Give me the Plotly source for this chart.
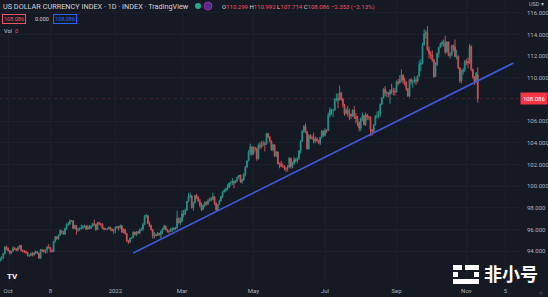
import pandas as pd
import plotly.graph_objects as go

# ---------------- data (DXY daily, 2021-09-24 .. 2022-11-10, business days) ----------------
opens = [
    93.08,
    93.33, 93.36, 93.77, 94.36, 94.23,
    94.04, 93.82, 94.00, 94.26, 94.20,
    94.07, 94.31, 94.52, 94.08, 93.96,
    93.96, 93.88, 93.58, 93.59, 93.78,
    93.64, 93.82, 93.94, 93.79, 93.34,
    94.12, 94.08, 93.94, 94.14, 94.38,
    94.32, 94.06, 93.96, 94.88, 95.33,
    95.13, 95.46, 95.89, 95.82, 95.57,
    96.06, 96.48, 96.52, 96.80, 96.81,
    96.09, 96.36, 95.98, 96.05, 96.10,
    96.13, 96.29, 96.33, 96.02, 96.24,
    96.08, 96.30, 96.54, 96.48, 95.99,
    96.61, 96.51, 96.50, 96.11, 96.01,
    96.00, 96.06, 96.18, 96.00, 95.90,
    95.97, 96.21, 96.26, 96.16, 96.34,
    95.73, 95.99, 95.62, 94.93, 94.82,
    95.19, 95.24, 95.75, 95.53, 95.77,
    95.65, 95.92, 96.03, 96.45, 97.23,
    97.27, 96.54, 96.31, 95.96, 95.40,
    95.48, 95.44, 95.64, 95.52, 95.82,
    96.04, 96.30, 96.01, 95.82, 95.82,
    96.04, 96.06, 96.02, 96.17, 97.03,
    96.62, 96.71, 97.43, 97.39, 97.78,
    98.58, 99.03, 99.10, 97.99, 98.49,
    99.12, 98.99, 98.62, 98.24, 97.84,
    98.23, 98.50, 98.33, 98.62, 98.79,
    98.77, 99.04, 98.42, 97.82, 98.31,
    98.65, 99.05, 99.50, 99.62, 99.77,
    99.86, 100.28, 100.31, 100.46, 100.32,
    100.50, 100.84, 101.03, 100.40, 100.61,
    101.13, 101.77, 102.33, 103.12, 103.63,
    102.96, 103.55, 103.46, 102.54, 103.76,
    103.66, 103.90, 103.92, 103.87, 104.85,
    104.56, 104.19, 103.37, 103.82, 102.79,
    103.16, 102.07, 102.09, 101.85, 101.82,
    101.68, 101.64, 101.76, 102.57, 101.82,
    102.14, 102.45, 102.34, 102.59, 103.25,
    104.15, 105.07, 105.52, 105.06, 103.43,
    104.66, 104.45, 104.44, 104.15, 104.39,
    104.20, 103.99, 104.52, 105.10, 104.70,
    105.13, 105.12, 106.53, 107.05, 106.98,
    107.01, 108.06, 108.09, 107.97, 108.63,
    108.05, 107.50, 106.71, 107.02, 106.74,
    106.64, 106.47, 107.02, 106.44, 106.26,
    105.91, 105.35, 106.24, 106.51, 105.68,
    106.59, 106.37, 106.37, 105.18, 105.07,
    105.69, 106.49, 106.50, 106.68, 107.56,
    108.16, 108.97, 108.58, 108.62, 108.49,
    108.82, 108.79, 108.76, 108.70, 109.62,
    109.53, 109.84, 110.28, 109.79, 109.63,
    109.00, 108.33, 109.81, 109.67, 109.70,
    109.79, 109.71, 110.16, 111.24, 111.36,
    113.02, 114.07, 114.19, 112.59, 112.26,
    112.12, 111.69, 110.14, 111.22, 112.25,
    112.80, 113.15, 113.29, 113.28, 112.41,
    113.31, 112.08, 112.14, 112.98, 112.86,
    111.98, 112.00, 110.93, 109.73, 110.58,
    110.76, 111.53, 111.52, 111.38, 112.92,
    110.78, 110.10, 109.64, 110.30,
]
highs = [
    93.40,
    93.50, 93.81, 94.45, 94.50, 94.35,
    94.08, 94.03, 94.45, 94.38, 94.28,
    94.41, 94.56, 94.55, 94.15, 94.10,
    94.05, 93.92, 93.70, 93.86, 93.90,
    93.95, 94.06, 94.00, 93.85, 94.20,
    94.20, 94.13, 94.15, 94.48, 94.64,
    94.35, 94.13, 94.96, 95.40, 95.36,
    95.52, 96.01, 95.90, 95.85, 96.19,
    96.55, 96.70, 96.94, 96.87, 96.85,
    96.44, 96.39, 96.09, 96.20, 96.45,
    96.40, 96.44, 96.38, 96.38, 96.40,
    96.38, 96.59, 96.91, 96.50, 96.70,
    96.72, 96.60, 96.55, 96.20, 96.10,
    96.15, 96.28, 96.25, 96.10, 96.05,
    96.26, 96.31, 96.34, 96.46, 96.43,
    96.10, 96.06, 95.68, 95.03, 95.22,
    95.30, 95.82, 95.78, 95.85, 95.88,
    96.08, 96.17, 96.61, 97.33, 97.44,
    97.30, 96.74, 96.45, 96.05, 95.75,
    95.64, 95.78, 95.70, 95.92, 96.10,
    96.43, 96.35, 96.05, 95.95, 96.10,
    96.22, 96.20, 96.25, 97.74, 97.10,
    97.10, 97.75, 97.80, 97.91, 98.64,
    99.35, 99.42, 99.20, 98.55, 99.18,
    99.30, 99.05, 98.80, 98.45, 98.30,
    98.60, 98.60, 98.80, 98.95, 98.98,
    99.40, 99.10, 98.50, 98.35, 98.75,
    99.10, 99.55, 99.75, 99.85, 100.19,
    100.30, 100.50, 100.75, 100.50, 100.55,
    100.87, 101.04, 101.05, 100.70, 101.20,
    101.86, 102.40, 103.35, 103.93, 103.65,
    103.70, 103.65, 103.55, 103.94, 104.07,
    104.19, 104.20, 104.10, 104.93, 104.92,
    104.60, 104.25, 103.90, 103.85, 103.25,
    103.20, 102.20, 102.35, 102.10, 101.95,
    101.75, 101.95, 102.70, 102.60, 102.25,
    102.70, 102.60, 102.65, 103.35, 104.25,
    105.20, 105.65, 105.79, 105.10, 104.80,
    104.80, 104.70, 104.95, 104.60, 104.50,
    104.30, 104.55, 105.20, 105.15, 105.35,
    105.25, 106.80, 107.27, 107.15, 107.10,
    108.15, 108.55, 108.60, 109.29, 108.70,
    108.10, 107.60, 107.20, 107.40, 107.15,
    106.70, 107.10, 107.40, 106.75, 106.50,
    105.95, 106.35, 106.80, 106.55, 106.80,
    106.65, 106.50, 106.45, 105.30, 105.75,
    106.55, 106.90, 106.95, 107.65, 108.20,
    109.05, 109.25, 108.80, 108.70, 108.95,
    109.48, 109.10, 109.05, 109.75, 109.90,
    110.25, 110.79, 110.30, 110.05, 109.65,
    109.05, 109.90, 110.00, 109.85, 110.15,
    110.05, 110.25, 111.60, 111.75, 113.25,
    114.50, 114.40, 114.78, 112.90, 112.45,
    112.55, 111.75, 111.45, 112.35, 112.90,
    113.25, 113.45, 113.55, 113.90, 113.40,
    113.35, 112.40, 113.05, 113.10, 113.55,
    112.60, 112.10, 111.00, 110.75, 110.90,
    111.65, 111.75, 111.90, 113.15, 113.00,
    110.85, 110.15, 110.55, 110.99,
]
lows = [
    93.00,
    93.14, 93.26, 93.70, 94.12, 93.95,
    93.68, 93.73, 93.95, 94.10, 93.98,
    94.00, 94.22, 93.96, 93.87, 93.80,
    93.75, 93.50, 93.45, 93.53, 93.50,
    93.59, 93.72, 93.70, 93.28, 93.27,
    93.90, 93.86, 93.75, 93.80, 94.23,
    93.87, 93.87, 93.88, 94.80, 95.05,
    95.08, 95.41, 95.57, 95.50, 95.49,
    95.95, 96.30, 96.40, 96.70, 96.01,
    96.05, 95.52, 95.76, 95.87, 95.97,
    96.05, 96.15, 95.95, 96.00, 96.00,
    96.05, 96.25, 96.30, 95.86, 95.95,
    96.42, 96.30, 96.05, 95.90, 95.95,
    95.92, 96.00, 95.87, 95.80, 95.55,
    95.68, 96.05, 95.88, 96.05, 95.70,
    95.65, 95.52, 94.85, 94.63, 94.78,
    95.10, 95.20, 95.45, 95.40, 95.60,
    95.60, 95.85, 95.90, 96.40, 97.05,
    96.50, 96.23, 95.90, 95.14, 95.17,
    95.35, 95.40, 95.40, 95.14, 95.58,
    95.95, 95.90, 95.70, 95.60, 95.75,
    95.75, 95.90, 95.95, 96.05, 96.55,
    96.40, 96.66, 97.10, 97.35, 97.70,
    98.50, 98.85, 97.95, 97.72, 98.40,
    98.80, 98.55, 98.05, 97.70, 97.80,
    98.05, 98.20, 98.30, 98.55, 98.60,
    98.70, 98.25, 97.70, 97.68, 98.25,
    98.60, 98.90, 99.40, 99.45, 99.60,
    99.80, 100.00, 100.10, 99.80, 100.25,
    100.40, 100.65, 100.30, 100.20, 100.50,
    100.90, 101.70, 102.30, 102.85, 102.80,
    102.90, 103.20, 102.35, 102.45, 103.40,
    103.50, 103.70, 103.20, 103.80, 104.40,
    104.00, 103.25, 103.20, 102.70, 102.65,
    102.00, 101.65, 101.75, 101.70, 101.45,
    101.30, 101.35, 101.70, 101.60, 101.65,
    101.95, 102.20, 102.10, 102.40, 103.00,
    104.10, 104.90, 104.90, 103.40, 103.40,
    104.35, 104.30, 103.95, 103.95, 104.10,
    103.90, 103.80, 104.40, 104.55, 104.60,
    104.90, 105.10, 106.35, 106.60, 106.40,
    107.00, 107.80, 107.20, 107.90, 107.90,
    107.25, 106.50, 106.60, 106.40, 106.10,
    106.20, 106.40, 106.20, 105.80, 105.55,
    105.05, 105.10, 106.00, 105.60, 105.55,
    106.10, 106.10, 104.65, 104.65, 104.95,
    105.60, 106.25, 106.25, 106.40, 107.50,
    108.10, 108.30, 108.20, 108.20, 107.60,
    108.50, 108.40, 108.35, 108.65, 109.30,
    109.50, 109.60, 109.45, 109.30, 108.80,
    108.25, 108.20, 109.40, 109.10, 109.50,
    109.35, 109.55, 110.15, 110.60, 111.25,
    113.00, 113.60, 112.50, 111.80, 111.75,
    111.50, 109.99, 110.10, 111.10, 111.90,
    112.75, 112.90, 112.90, 112.20, 112.30,
    112.00, 111.80, 112.00, 112.45, 111.90,
    111.70, 110.80, 109.55, 109.50, 110.30,
    110.55, 111.20, 110.90, 111.30, 110.60,
    109.90, 109.35, 109.50, 107.71,
]
closes = [
    93.33,
    93.36, 93.77, 94.36, 94.23, 94.04,
    93.82, 94.00, 94.26, 94.20, 94.07,
    94.31, 94.52, 94.08, 93.96, 93.96,
    93.88, 93.58, 93.59, 93.78, 93.64,
    93.82, 93.94, 93.79, 93.34, 94.12,
    94.08, 93.94, 94.14, 94.38, 94.32,
    94.06, 93.96, 94.88, 95.33, 95.13,
    95.46, 95.89, 95.82, 95.57, 96.06,
    96.48, 96.52, 96.80, 96.81, 96.09,
    96.36, 95.98, 96.05, 96.10, 96.13,
    96.29, 96.33, 96.02, 96.24, 96.08,
    96.30, 96.54, 96.48, 95.99, 96.61,
    96.51, 96.50, 96.11, 96.01, 96.00,
    96.06, 96.18, 96.00, 95.90, 95.97,
    96.21, 96.26, 96.16, 96.34, 95.73,
    95.99, 95.62, 94.93, 94.82, 95.19,
    95.24, 95.75, 95.53, 95.77, 95.65,
    95.92, 96.03, 96.45, 97.23, 97.27,
    96.54, 96.31, 95.96, 95.40, 95.48,
    95.44, 95.64, 95.52, 95.82, 96.04,
    96.30, 96.01, 95.82, 95.82, 96.04,
    96.06, 96.02, 96.17, 97.03, 96.62,
    96.71, 97.43, 97.39, 97.78, 98.58,
    99.03, 99.10, 97.99, 98.49, 99.12,
    98.99, 98.62, 98.24, 97.84, 98.23,
    98.50, 98.33, 98.62, 98.79, 98.77,
    99.04, 98.42, 97.82, 98.31, 98.65,
    99.05, 99.50, 99.62, 99.77, 99.86,
    100.28, 100.31, 100.46, 100.32, 100.50,
    100.84, 101.03, 100.40, 100.61, 101.13,
    101.77, 102.33, 103.12, 103.63, 102.96,
    103.55, 103.46, 102.54, 103.76, 103.66,
    103.90, 103.92, 103.87, 104.85, 104.56,
    104.19, 103.37, 103.82, 102.79, 103.16,
    102.07, 102.09, 101.85, 101.82, 101.68,
    101.64, 101.76, 102.57, 101.82, 102.14,
    102.45, 102.34, 102.59, 103.25, 104.15,
    105.07, 105.52, 105.06, 103.43, 104.66,
    104.45, 104.44, 104.15, 104.39, 104.20,
    103.99, 104.52, 105.10, 104.70, 105.13,
    105.12, 106.53, 107.05, 106.98, 107.01,
    108.06, 108.09, 107.97, 108.63, 108.05,
    107.50, 106.71, 107.02, 106.74, 106.64,
    106.47, 107.02, 106.44, 106.26, 105.91,
    105.35, 106.24, 106.51, 105.68, 106.59,
    106.37, 106.37, 105.18, 105.07, 105.69,
    106.49, 106.50, 106.68, 107.56, 108.16,
    108.97, 108.58, 108.62, 108.49, 108.82,
    108.79, 108.76, 108.70, 109.62, 109.53,
    109.84, 110.28, 109.79, 109.63, 109.00,
    108.33, 109.81, 109.67, 109.70, 109.79,
    109.71, 110.16, 111.24, 111.36, 113.02,
    114.07, 114.19, 112.59, 112.26, 112.12,
    111.69, 110.14, 111.22, 112.25, 112.80,
    113.15, 113.29, 113.28, 112.41, 113.31,
    112.08, 112.14, 112.98, 112.86, 111.98,
    112.00, 110.93, 109.73, 110.58, 110.76,
    111.53, 111.52, 111.38, 112.92, 110.78,
    110.10, 109.64, 110.45, 108.086,
]
dates = pd.bdate_range("2021-09-24", "2022-11-10")

# trendline drawn on the chart
trend_dates = ["2022-01-18", "2022-12-12"]
trend_values = [93.82, 111.38]

last_price = 108.086

x_tick_dates = ["2021-10-01", "2021-11-08", "2022-01-03", "2022-03-01", "2022-05-02",
                "2022-07-01", "2022-09-01", "2022-11-01", "2022-12-05"]
x_tick_text = ["Oct", "8", "2022", "Mar", "May", "Jul", "Sep", "Nov", "5"]
# 108.000 is hidden behind the last-price tag in the reference
y_tick_vals = [94, 96, 98, 100, 102, 104, 106, 110, 112, 114, 116]

# ---------------- styling ----------------
BG = "#151924"
GRID = "#1b1f2b"
TXT = "#b2b5be"
UP = "#2a9d8f"
DN = "#e0575a"
FONT = "Roboto"

PW, PH = 520, 283  # plot area in pixels


def px(x):
    return x / PW


def py(y):
    return 1 - y / PH


fig = go.Figure()
fig.add_trace(go.Candlestick(
    x=dates, open=opens, high=highs, low=lows, close=closes,
    increasing=dict(line=dict(color=UP, width=1), fillcolor=UP),
    decreasing=dict(line=dict(color=DN, width=1), fillcolor=DN),
    whiskerwidth=0, showlegend=False, hoverinfo="skip", opacity=0.9,
))
fig.add_trace(go.Scatter(
    x=trend_dates, y=trend_values, mode="lines",
    line=dict(color="#3d5ad8", width=1.6), showlegend=False, hoverinfo="skip",
))

shapes = []
# faint dotted last-price line
shapes.append(dict(type="line", xref="paper", yref="y", x0=0, x1=1,
                   y0=last_price, y1=last_price,
                   line=dict(color=DN, width=1, dash="dot"), opacity=0.2, layer="below"))
# header dots
shapes.append(dict(type="circle", xref="paper", yref="paper",
                   x0=px(195), x1=px(201), y0=py(9), y1=py(3),
                   fillcolor="#22ab94", line=dict(width=0)))
shapes.append(dict(type="circle", xref="paper", yref="paper",
                   x0=px(204), x1=px(212), y0=py(10), y1=py(2),
                   fillcolor="#5b2a86", line=dict(color="#9c27b0", width=1)))
# watermark icon
for (x0, x1, y0, y1) in [(453, 462, 265, 270), (465, 479, 265, 270),
                         (453, 458, 272, 277), (474, 479, 272, 277),
                         (453, 479, 279, 284)]:
    shapes.append(dict(type="rect", xref="paper", yref="paper",
                       x0=px(x0), x1=px(x1), y0=py(y1), y1=py(y0),
                       fillcolor="#ffffff", line=dict(width=0), layer="above"))

ann = []


def text(x, y, s, size=6.5, color=TXT, anchor="left", **kw):
    ann.append(dict(xref="paper", yref="paper", x=px(x), y=py(y), text=s,
                    showarrow=False, xanchor=anchor, yanchor="middle",
                    font=dict(family=FONT, size=size, color=color), **kw))


text(1, 7, "US DOLLAR CURRENCY INDEX · 1D · INDEX · TradingView", size=7.3, color="#d1d4dc")
red = "#f7525f"
text(220, 7,
     f"O<span style='color:{red}'>110.299</span> H<span style='color:{red}'>110.992</span> "
     f"L<span style='color:{red}'>107.714</span> C<span style='color:{red}'>108.086</span> "
     f"<span style='color:{red}'>−2.353 (−2.13%)</span>", size=6, color="#d1d4dc")
text(2, 19, "108.086", size=5.5, color=red, bordercolor=red, borderwidth=1, borderpad=1)
text(33, 19, "0.000", size=5.5, color="#d1d4dc")
text(53, 19, "108.086", size=5.5, color="#2962ff", bordercolor="#2962ff", borderwidth=1, borderpad=1)
text(2, 31, "Vol", size=5.5, color="#d1d4dc")
text(13, 31, "0", size=5.5, color=red)
text(527, 4, "USD ▾", size=5.5, color=TXT)
text(5, 276, "<b>TV</b>", size=8, color="#ffffff")
text(541, 292, "○", size=6, color=TXT, anchor="center")
# last price tag
ann.append(dict(xref="paper", yref="y", x=1.0, y=last_price, text="108.086",
                showarrow=False, xanchor="left", yanchor="middle",
                font=dict(family=FONT, size=6, color="#ffffff"),
                bgcolor="#f23645", borderpad=2))
# watermark text
ann.append(dict(xref="paper", yref="paper", x=px(482), y=py(273), text="<b>非小号</b>",
                showarrow=False, xanchor="left", yanchor="middle",
                font=dict(family="Noto Sans CJK SC", size=18, color="#ffffff")))

fig.update_layout(
    width=548, height=297,
    margin=dict(l=0, r=28, t=0, b=14),
    paper_bgcolor=BG, plot_bgcolor=BG,
    shapes=shapes, annotations=ann,
    font=dict(family=FONT, size=6, color=TXT),
    xaxis=dict(
        type="date", range=["2021-09-24", "2022-12-16"],
        rangebreaks=[dict(bounds=["sat", "mon"])],
        rangeslider=dict(visible=False),
        tickvals=x_tick_dates, ticktext=x_tick_text,
        tickfont=dict(family=FONT, size=6, color=TXT),
        showgrid=True, gridcolor=GRID, gridwidth=1, zeroline=False,
        showline=False, ticks="", ticklabelstandoff=3,
    ),
    yaxis=dict(
        side="right", range=[91.05, 117.2],
        tickvals=y_tick_vals, tickformat=".3f",
        tickfont=dict(family=FONT, size=6, color=TXT),
        showgrid=True, gridcolor=GRID, gridwidth=1, zeroline=False,
        showline=False, ticks="", ticklabelstandoff=6,
    ),
)

fig.write_html("out.html")
